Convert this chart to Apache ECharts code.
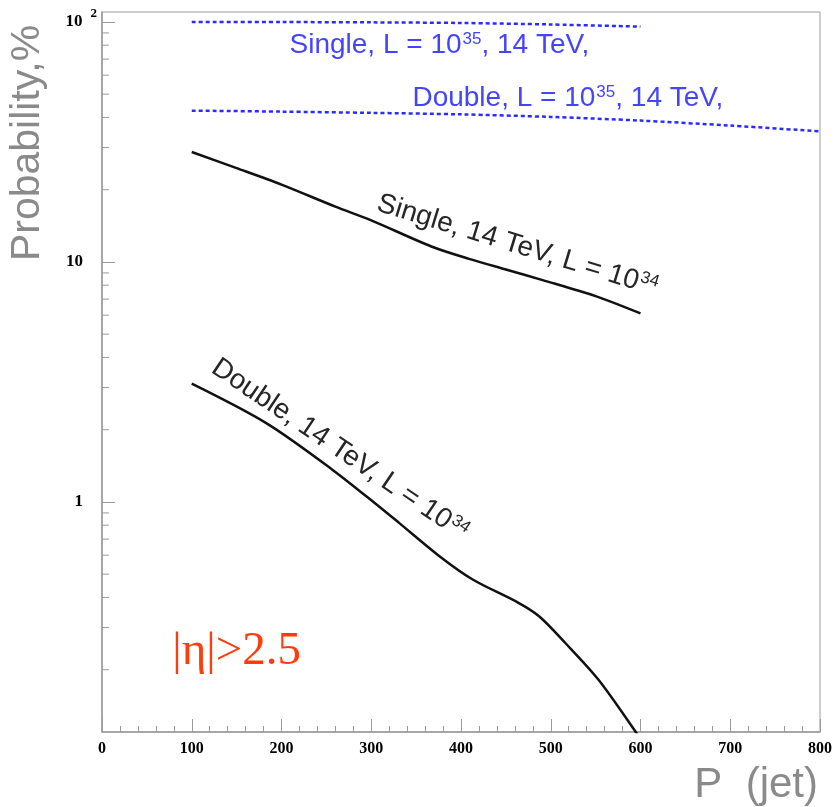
<!DOCTYPE html>
<html><head><meta charset="utf-8">
<script src="https://cdn.jsdelivr.net/npm/echarts@6/dist/echarts.min.js"></script>
<style>html,body{margin:0;padding:0;background:#fff}#c{width:835px;height:807px}</style>
</head><body><div id="c"></div>
<script>
// ---- data ----
const single34X = [100, 150, 200, 260, 300, 367, 409, 450, 491, 550, 600];
const single34Y = [28.7, 24.6, 21.0, 17.0, 14.9, 11.6, 10.3, 9.3, 8.4, 7.2, 6.1];
const double34X = [100, 183, 257, 309, 331, 376, 413, 464, 487, 516, 553, 594, 600];
const double34Y = [3.11, 2.13, 1.36, 0.955, 0.818, 0.594, 0.475, 0.38, 0.334, 0.259, 0.182, 0.111, 0.102];
const single35X = [100, 200, 300, 400, 500, 600];
const single35Y = [100, 99.9, 99.6, 99.0, 97.6, 95.6];
const double35X = [100, 200, 300, 400, 500, 600, 700, 800];
const double35Y = [42.7, 42.3, 41.8, 41.2, 40.2, 38.8, 37.0, 35.0];
const xMin = 0, xMax = 800, xStep = 100;
const yMin = 0.11, yMax = 110;
const yMinorTicks = [0.2,0.3,0.4,0.5,0.6,0.7,0.8,0.9,2,3,4,5,6,7,8,9,20,30,40,50,60,70,80,90];
const xTitle = 'P  (jet)';
const yTitle = 'Probability,%';
// annotation texts with anchor (data coordinates) and rotation in degrees
const annTexts = ['Single, L = 10{s|35}, 14 TeV,', 'Double, L = 10{s|35}, 14 TeV,', 'Single, 14 TeV, L = 10{s|34}', 'Double, 14 TeV, L = 10{s|34}', '|η|>2.5'];
const annAtX = [376, 519, 463, 265, 150];
const annAtY = [80.2, 47.9, 11.7, 1.65, 0.238];
const annRot = [0, 0, -17, -34, 0];

const zip = (xs, ys) => xs.map((x, i) => [x, ys[i]]);
const chart = echarts.init(document.getElementById('c'), null, {renderer: 'canvas'});
const gray = '#9a9a9a';
const blue = '#2b2bff';

chart.setOption({
  animation: false,
  backgroundColor: '#fff',
  grid: {left: 102, right: 12, top: 12, bottom: 75, show: true, borderColor: gray, borderWidth: 1, backgroundColor: 'transparent'},
  xAxis: {
    type: 'value', min: xMin, max: xMax, interval: xStep,
    axisLine: {show: true, lineStyle: {color: gray, width: 1.5}},
    axisTick: {show: true, inside: true, length: 13, lineStyle: {color: gray, width: 1}},
    minorTick: {show: true, splitNumber: 5, length: 6, lineStyle: {color: gray, width: 1}},
    splitLine: {show: false}, minorSplitLine: {show: false},
    axisLabel: {margin: 9, fontFamily: 'Liberation Serif', fontWeight: 'bold', fontSize: 16, color: '#000'}
  },
  yAxis: {
    type: 'log', logBase: 10, min: yMin, max: yMax,
    axisLine: {show: true, lineStyle: {color: gray, width: 1.5}},
    axisTick: {show: true, inside: true, length: 13, lineStyle: {color: gray, width: 1}},
    splitLine: {show: false},
    axisLabel: {
      margin: 5, showMinLabel: false, showMaxLabel: false, color: '#000',
      formatter: function (v) {
        const l = Math.log10(v), r = Math.round(l);
        if (Math.abs(l - r) > 1e-6) return '';
        if (r === 0) return '{p|1}';
        if (r === 1) return '{p|10}';
        if (r === 2) return '{b|10}{s|2}';
        return '';
      },
      rich: {
        p: {fontFamily: 'Liberation Serif', fontWeight: 'bold', fontSize: 17, padding: [0, 14, 0, 0], verticalAlign: 'middle'},
        b: {fontFamily: 'Liberation Serif', fontWeight: 'bold', fontSize: 17, verticalAlign: 'middle'},
        s: {fontFamily: 'Liberation Serif', fontWeight: 'bold', fontSize: 13, padding: [0, 0, 16, 8], verticalAlign: 'middle'}
      }
    }
  },
  series: [
    {type: 'line', data: zip(single34X, single34Y), smooth: 0.3, showSymbol: false, lineStyle: {color: '#111', width: 2.5}, z: 3},
    {type: 'line', data: zip(double34X, double34Y), smooth: 0.3, showSymbol: false, lineStyle: {color: '#111', width: 2.5}, z: 3},
    {type: 'line', data: zip(single35X, single35Y), smooth: 0.3, showSymbol: false, lineStyle: {color: blue, width: 2.5, type: [4, 3]}, z: 3},
    {type: 'line', data: zip(double35X, double35Y), smooth: 0.3, showSymbol: false, lineStyle: {color: blue, width: 2.5, type: [4, 3]}, z: 3},
    {
      type: 'custom', silent: true, clip: false, z: 2,
      data: yMinorTicks.map(v => [xMin, v]),
      renderItem: function (params, api) {
        const p = api.coord([api.value(0), api.value(1)]);
        return {type: 'line', shape: {x1: p[0], y1: p[1], x2: p[0] + 7, y2: p[1]}, style: {stroke: gray, lineWidth: 1}};
      }
    }
  ]
});

const supRich = (size) => ({s: {fontSize: size, fontFamily: 'Liberation Sans', padding: [0, 0, 12, 1], verticalAlign: 'middle'}});
const styles = [
  {fill: '#4444ff', fontSize: 28, fontFamily: 'Liberation Sans'},
  {fill: '#4444ff', fontSize: 28, fontFamily: 'Liberation Sans'},
  {fill: '#262626', fontSize: 28, fontFamily: 'Liberation Sans'},
  {fill: '#262626', fontSize: 28, fontFamily: 'Liberation Sans'},
  {fill: '#ff3c0a', fontSize: 47, fontFamily: 'Liberation Serif'}
];
const graphics = annTexts.map((t, i) => {
  const p = chart.convertToPixel({xAxisIndex: 0, yAxisIndex: 0}, [annAtX[i], annAtY[i]]);
  const st = styles[i];
  return {
    type: 'text', x: p[0], y: p[1], rotation: annRot[i] * Math.PI / 180, z: 10,
    style: Object.assign({text: t, align: 'center', verticalAlign: 'middle', rich: supRich(17)}, st)
  };
});
graphics.push({type: 'text', x: 28, y: 143, rotation: Math.PI / 2, z: 10,
  style: {text: yTitle, fill: '#8a8a8a', fontSize: 41, fontFamily: 'Liberation Sans', align: 'center', verticalAlign: 'middle'}});
graphics.push({type: 'text', x: 818, y: 785, z: 10,
  style: {text: xTitle, fill: '#8a8a8a', fontSize: 42, fontFamily: 'Liberation Sans', align: 'right', verticalAlign: 'middle'}});
chart.setOption({graphic: graphics});
</script>
</body></html>
